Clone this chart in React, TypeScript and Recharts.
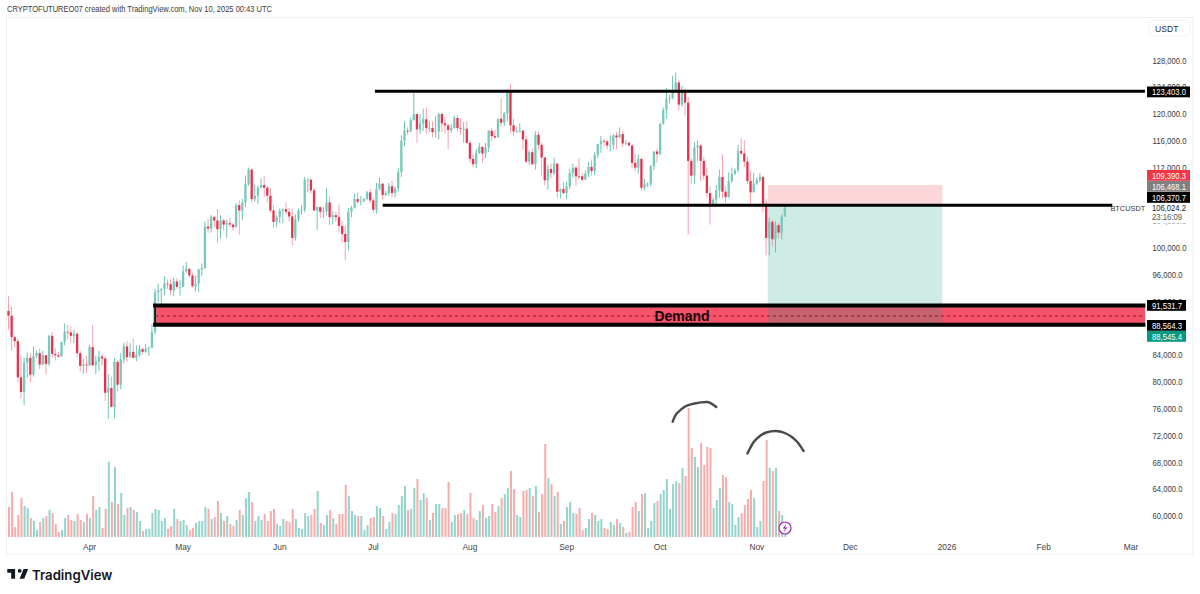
import React from 'react';
import { ComposedChart, Bar, Line, XAxis, YAxis, ReferenceLine, ReferenceArea, ReferenceDot } from 'recharts';

// Daily BTCUSDT candles in thousands of USDT, 2025-03-06 to 2025-11-10
const opens = [
  90.6,89.9,86.7,86.1,80.7,78.5,82.9,83.6,81.1,83.9,84.3,82.6,84.0,82.7,86.9,84.2,84.0,83.8,86.0,87.5,87.4,86.9,87.2,84.3,82.4,82.6,
  82.5,85.2,82.5,83.1,83.8,83.5,78.4,79.1,76.3,83.0,79.6,83.4,85.3,83.7,84.5,83.6,84.0,84.9,84.5,85.0,85.1,87.5,93.4,93.7,93.9,94.7,94.6,93.7,95.0,94.2,
  94.2,96.5,96.9,95.9,94.3,94.7,96.8,97.0,103.2,102.9,104.6,104.1,102.8,104.1,103.5,103.7,103.5,103.1,106.4,105.6,106.8,109.6,111.7,107.3,107.8,109.0,109.4,109.0,107.8,105.6,103.9,
  104.6,105.6,105.8,105.4,104.7,101.5,104.3,105.6,105.7,110.2,110.2,108.6,105.6,106.1,105.4,105.5,106.8,104.6,104.9,104.6,103.3,102.1,100.9,105.4,106.0,107.3,106.9,107.0,107.3,108.3,
  107.1,105.7,108.8,109.6,107.9,108.2,109.2,108.2,108.9,111.3,116.0,117.5,117.4,119.1,120.0,117.7,118.6,119.2,117.9,117.9,117.3,117.4,120.0,118.6,118.3,117.6,117.9,119.4,117.9,117.8,117.8,
  115.7,113.3,112.5,114.2,115.1,114.1,115.0,117.5,116.7,116.5,119.3,118.7,120.1,123.3,118.3,117.4,117.4,117.5,116.2,112.9,114.3,112.5,116.9,115.4,113.5,110.1,111.8,111.2,112.6,108.4,108.8,
  108.2,109.2,111.2,112.0,110.7,110.7,110.2,111.1,112.1,111.5,113.9,115.5,116.0,115.9,115.3,115.4,116.8,116.5,117.0,115.6,115.7,115.3,112.7,112.0,113.3,109.0,109.6,109.6,112.2,114.4,
  114.0,118.6,120.6,122.3,122.4,123.5,124.7,121.4,123.3,121.7,113.0,110.8,115.0,115.3,113.0,110.8,108.2,106.4,107.2,108.6,110.6,108.4,107.6,110.0,111.0,111.6,114.5,114.1,112.9,110.0,108.3,
  109.6,110.1,110.6,106.6,101.5,103.9,101.3,103.4,102.3,104.7,
];
const highs = [
  92.8,91.3,86.9,86.5,84.0,83.6,84.4,84.3,85.3,84.7,85.0,84.7,84.0,87.0,87.4,85.0,84.5,86.0,88.7,88.5,88.3,87.8,87.5,84.6,83.5,83.9,
  85.5,88.5,83.9,84.7,84.2,83.8,81.2,80.8,83.6,83.2,84.3,85.9,86.1,85.8,86.5,85.5,85.5,85.1,85.7,85.3,88.6,93.9,94.7,94.0,95.8,95.3,95.3,95.6,95.5,95.2,
  97.4,97.9,96.9,96.3,95.9,96.9,97.7,104.0,104.4,104.9,104.8,105.8,104.9,104.4,104.2,104.5,103.7,106.7,107.1,107.3,110.8,112.0,111.9,109.5,109.3,110.4,110.7,109.3,108.9,106.3,104.9,
  105.9,105.9,106.8,106.0,105.9,105.0,105.9,106.4,110.6,110.4,110.4,108.9,106.2,106.2,106.1,108.9,107.7,105.5,105.4,106.5,104.0,103.4,106.0,106.3,108.1,108.3,107.8,107.5,108.5,108.8,
  107.5,109.7,110.5,109.7,108.5,109.7,110.0,109.2,111.9,116.8,118.9,118.0,119.5,123.2,120.0,120.0,120.8,120.9,118.9,118.9,119.7,120.2,120.2,119.5,118.5,118.5,119.8,119.8,119.3,118.8,118.9,
  116.1,114.0,114.8,115.7,115.1,115.7,117.6,117.9,117.6,119.3,122.3,120.3,123.7,124.5,119.3,118.0,118.6,117.6,116.8,114.6,114.8,117.4,117.4,115.7,113.6,112.4,112.6,113.5,112.6,108.9,109.9,
  109.9,111.8,112.6,112.2,113.4,111.2,111.6,112.9,113.2,114.3,115.5,116.7,116.3,116.1,116.8,117.0,117.3,118.0,117.5,116.1,115.9,115.4,114.0,114.0,113.5,110.3,109.8,112.4,114.4,114.8,
  118.6,121.0,123.9,122.9,125.7,126.2,125.1,124.2,123.8,122.5,113.4,115.8,116.0,115.5,113.6,112.0,109.2,107.5,109.4,111.7,114.0,109.2,111.3,112.0,111.9,115.4,116.4,116.1,113.6,111.6,111.2,
  110.5,111.2,110.8,107.3,104.5,104.2,104.0,103.7,105.0,106.4,
];
const lows = [
  87.8,84.7,85.2,80.0,77.5,76.6,80.6,79.9,80.8,83.6,81.9,82.5,81.1,82.4,83.7,83.2,83.6,83.8,85.5,86.3,85.9,85.8,83.7,81.6,81.2,81.3,
  82.4,82.3,81.2,81.7,82.4,77.2,74.5,76.2,74.6,78.6,78.9,82.8,83.0,83.7,83.6,83.1,83.8,84.1,84.3,83.9,85.1,87.1,91.9,91.7,92.9,93.9,93.0,92.8,93.9,92.9,
  94.1,96.3,95.6,94.1,93.5,93.4,95.8,96.9,102.3,102.3,103.1,100.8,101.4,102.6,101.5,103.1,102.6,103.1,102.0,104.2,106.1,109.3,106.8,106.9,106.6,108.9,107.6,106.8,105.3,103.0,103.1,
  103.7,103.7,105.0,104.0,100.4,101.1,103.9,105.0,105.3,108.3,108.1,105.6,102.7,104.5,104.5,104.9,103.4,103.5,103.9,102.3,100.8,98.2,99.6,104.6,105.9,106.6,106.4,106.8,107.2,106.7,
  105.2,105.1,108.6,107.2,107.8,107.8,107.5,107.5,108.4,110.6,115.2,116.9,117.3,119.0,115.7,117.0,117.5,117.0,117.3,116.5,116.5,116.2,117.3,117.1,114.7,117.2,117.8,117.4,116.9,115.7,115.5,
  112.7,112.0,111.9,114.0,112.7,113.4,114.3,115.9,116.3,116.5,118.1,118.2,118.9,117.2,116.8,117.2,117.2,114.7,112.7,112.4,112.4,111.7,114.7,110.7,109.4,108.7,110.4,110.9,107.5,107.4,108.0,
  107.3,108.8,110.5,109.3,110.2,109.9,110.2,110.6,110.8,110.9,113.4,114.2,115.2,114.7,114.4,114.7,114.8,116.4,115.1,115.4,115.2,111.9,111.5,111.1,108.6,108.6,109.1,109.2,111.6,112.7,
  113.9,118.4,119.3,121.6,122.2,123.1,120.6,121.1,119.8,102.0,109.6,109.6,113.0,110.0,110.2,107.5,103.5,106.4,106.1,107.5,107.4,106.7,107.5,109.7,111.0,111.3,113.8,112.1,109.5,106.3,108.3,
  109.4,109.8,105.3,98.9,98.9,100.3,99.3,101.5,101.3,104.7,
];
const closes = [
  89.9,86.7,86.1,80.7,78.5,82.9,83.6,81.1,83.9,84.3,82.6,84.0,82.7,86.9,84.2,84.0,83.8,86.0,87.5,87.4,86.9,87.2,84.3,82.4,82.6,82.5,
  85.2,82.5,83.1,83.8,83.5,78.4,79.1,76.3,83.0,79.6,83.4,85.3,83.7,84.5,83.6,84.0,84.9,84.5,85.0,85.1,87.5,93.4,93.7,93.9,94.7,94.6,93.7,95.0,94.2,94.2,
  96.5,96.9,95.9,94.3,94.7,96.8,97.0,103.2,102.9,104.6,104.1,102.8,104.1,103.5,103.7,103.5,103.1,106.4,105.6,106.8,109.6,111.7,107.3,107.8,109.0,109.4,109.0,107.8,105.6,103.9,104.6,
  105.6,105.8,105.4,104.7,101.5,104.3,105.6,105.7,110.2,110.2,108.6,105.6,106.1,105.4,105.5,106.8,104.6,104.9,104.6,103.3,102.1,100.9,105.4,106.0,107.3,106.9,107.0,107.3,108.3,107.1,
  105.7,108.8,109.6,107.9,108.2,109.2,108.2,108.9,111.3,116.0,117.5,117.4,119.1,120.0,117.7,118.6,119.2,117.9,117.9,117.3,117.4,120.0,118.6,118.3,117.6,117.9,119.4,117.9,117.8,117.8,115.7,
  113.3,112.5,114.2,115.1,114.1,115.0,117.5,116.7,116.5,119.3,118.7,120.1,123.3,118.3,117.4,117.4,117.5,116.2,112.9,114.3,112.5,116.9,115.4,113.5,110.1,111.8,111.2,112.6,108.4,108.8,108.2,
  109.2,111.2,112.0,110.7,110.6,110.2,111.1,112.1,111.5,113.9,115.5,116.0,115.9,115.3,115.4,116.8,116.5,117.0,115.6,115.7,115.3,112.7,112.0,113.3,109.0,109.6,109.6,112.2,114.4,114.0,
  118.6,120.6,122.3,122.4,123.5,124.7,121.4,123.3,121.7,113.0,110.8,115.0,115.3,113.0,110.8,108.2,106.4,107.2,108.6,110.6,108.4,107.6,110.0,111.0,111.6,114.5,114.1,112.9,110.0,108.3,109.6,
  110.1,110.6,106.6,101.5,103.9,101.3,103.4,102.3,104.7,106.0,
];
const volumes = [
  30,45,10,22,39,31,29,19,16,7,15,19,21,27,24,13,5,7,19,22,17,16,23,17,15,23,
  19,41,27,30,9,28,75,35,70,33,44,22,29,30,27,25,16,6,8,8,24,28,27,16,19,8,11,28,18,16,
  17,12,7,9,14,16,16,30,28,18,20,36,24,16,21,13,11,17,27,22,39,45,35,16,21,17,23,16,26,28,13,
  11,18,16,15,28,18,9,8,24,21,22,28,46,14,12,22,27,19,13,23,23,52,41,26,22,21,21,7,12,19,
  20,31,29,21,8,15,24,23,32,41,51,27,28,49,58,37,44,39,17,24,33,33,29,29,55,15,22,23,24,27,23,
  44,19,17,26,32,19,21,33,25,31,39,43,49,66,48,22,20,46,47,49,41,51,25,43,93,59,53,41,45,13,16,
  30,35,24,23,29,7,9,18,24,22,16,18,9,8,15,12,18,14,10,4,5,30,35,26,43,44,9,16,34,36,
  43,47,58,28,53,56,54,69,61,129,89,80,70,94,72,90,89,29,37,49,62,60,35,33,12,20,24,32,38,47,39,
  10,16,56,97,69,66,69,26,22,3,
];

// Hand-drawn arcs over the volume spikes, as [days after 2025-03-06, price]
const arcOne = [[213,74074],[214,75075],[215,75600],[217,76340],[220,76790],[224,77014],[227,76270]];
const arcTwo = [[237,69330],[239,71044],[241,71940],[243,72462],[246,72686],[249,72388],[251,71866],[253,71044],[255,69700]];

const priceTicks = [60000,64000,68000,72000,76000,80000,84000,92000,96000,100000,104000,112000,116000,120000,124000,128000];
const monthDates = ['2025-04-01','2025-05-01','2025-06-01','2025-07-01','2025-08-01','2025-09-01','2025-10-01','2025-11-01','2025-12-01','2026-01-01','2026-02-01','2026-03-01'];
const monthLabels = ['Apr','May','Jun','Jul','Aug','Sep','Oct','Nov','Dec','2026','Feb','Mar'];

const resistance = 123403;
const support = 106370.7;
const demandTop = 91417;
const demandBottom = 88551;
const demandMid = 89850;
const stopPrice = 109390.3;
const targetPrice = 88545.4;

const sessionDays = 365;
const dates: string[] = [];
for (let i = 0; i < sessionDays; i++) {
  dates.push(new Date(Date.UTC(2025, 2, 6 + i)).toISOString().slice(0, 10));
}
const table = dates.map((date, i) => {
  const a1 = arcOne.find((p) => p[0] === i);
  const a2 = arcTwo.find((p) => p[0] === i);
  const row: any = { date, arc1: a1 ? a1[1] : null, arc2: a2 ? a2[1] : null };
  if (i < closes.length) {
    row.open = opens[i] * 1000;
    row.high = highs[i] * 1000;
    row.low = lows[i] * 1000;
    row.close = closes[i] * 1000;
    row.volume = volumes[i];
  }
  return row;
});

const FONT = '"Liberation Sans", Arial, sans-serif';
const TEAL_BODY = '#78c9ba';
const TEAL_WICK = '#62bdac';
const RED_BODY = '#e6324f';
const RED_WICK = '#f09aa8';

function Candle(props: any) {
  const { x, y, width, height, payload } = props;
  if (!payload || payload.high == null || !(height > 0)) return null;
  const perUnit = height / (payload.high - payload.low);
  const at = (v: number) => y + (payload.high - v) * perUnit;
  const up = payload.close >= payload.open;
  const cx = x + width / 2;
  const top = at(Math.max(payload.open, payload.close));
  const bottom = at(Math.min(payload.open, payload.close));
  return (
    <g>
      <rect x={cx - 0.45} y={y} width={0.9} height={height} fill={up ? TEAL_WICK : RED_WICK} />
      <rect x={cx - 1.15} y={top} width={2.3} height={Math.max(bottom - top, 0.8)} fill={up ? TEAL_BODY : RED_BODY} />
    </g>
  );
}

function VolumeBar(props: any) {
  const { x, y, width, height, payload } = props;
  if (!payload || payload.volume == null || !(height > 0)) return null;
  const up = payload.close >= payload.open;
  return <rect x={x} y={y} width={width} height={height} fill={up ? '#93d4cc' : '#f5acaa'} />;
}

function PriceTick(props: any) {
  const { y, payload } = props;
  const label = payload.value.toLocaleString('en-US', { minimumFractionDigits: 1 });
  return (
    <text x={1152.5} y={y + 3.2} fontSize={9} fontFamily={FONT} fill="#3a3a3a" textLength={label.length > 8 ? 34 : 30} lengthAdjust="spacingAndGlyphs">
      {label}
    </text>
  );
}

function Tag({ y, w = 43, fill, color = '#fff', text, len = 34 }: any) {
  return (
    <g>
      <rect x={1147} y={y} width={w} height={10.8} fill={fill} />
      <text x={1152} y={y + 8.5} fontSize={9} fontFamily={FONT} fill={color} textLength={len} lengthAdjust="spacingAndGlyphs">{text}</text>
    </g>
  );
}

function Overlay() {
  return (
    <svg width={1200} height={594} style={{ position: 'absolute', left: 0, top: 0, pointerEvents: 'none' }}>
      <text x={7} y={12} fontSize={8.6} fontFamily={FONT} fill="#3a3a3a" textLength={265} lengthAdjust="spacingAndGlyphs">CRYPTOFUTUREO07 created with TradingView.com, Nov 10, 2025 00:43 UTC</text>
      <rect x={6.5} y={17.5} width={1186.5} height={536.5} fill="none" stroke="#efefef" />
      <rect x={1149} y={20} width={41} height={16} rx={3} fill="#fff" stroke="#f3f3f3" />
      <text x={1155} y={32} fontSize={8.6} fontFamily={FONT} fill="#333">USDT</text>

      <Tag y={86.5} fill="#000" text="123,403.0" />
      <Tag y={170} fill="#f23645" text="109,390.3" />
      <Tag y={181} fill="#808080" text="106,468.1" />
      <Tag y={192} fill="#000" text="106,370.7" />
      <rect x={1147} y={203} width={43} height={20.5} fill="#fff" />
      <text x={1152} y={211} fontSize={9} fontFamily={FONT} fill="#222" textLength={34} lengthAdjust="spacingAndGlyphs">106,024.2</text>
      <text x={1152} y={220} fontSize={8.6} fontFamily={FONT} fill="#555" textLength={30} lengthAdjust="spacingAndGlyphs">23:16:09</text>
      <Tag y={300} w={39} fill="#000" text="91,531.7" len={30} />
      <Tag y={320} w={39} fill="#000" text="88,564.3" len={30} />
      <Tag y={331} w={39} fill="#089981" text="88,545.4" len={30} />

      <circle cx={785} cy={528} r={6} fill="#fff" stroke="#9c27b0" strokeWidth={1.2} />
      <path d="M786.2 523.8 L782.8 528.6 L785 528.6 L783.8 532.2 L787.2 527.4 L785 527.4 Z" fill="#9c27b0" />

      <g transform="translate(6,565) scale(0.65)">
        <path d="M14 6H2v6h6v9h6V6zm14 15h-7l6-15h7l-6 15zm-7-9a3 3 0 1 0 0-6 3 3 0 0 0 0 6z" fill="#131722" />
      </g>
      <text x={32} y={580} fontSize={13.2} fontWeight={600} fontFamily='Inter, "Open Sans", sans-serif' fill="#131722">TradingView</text>
    </svg>
  );
}

export default function App() {
  const first = dates[47];
  const last = dates[sessionDays - 1];
  return (
    <div style={{ position: 'absolute', left: 0, top: 0, width: 1200, height: 594, background: '#fff' }}>
      <ComposedChart width={1200} height={594} data={table} margin={{ top: 18, right: 0, bottom: 37, left: 7 }}>
        <XAxis
          xAxisId="main"
          dataKey="date"
          ticks={monthDates}
          interval={0}
          height={20}
          axisLine={false}
          tickLine={false}
          tickMargin={1}
          tickFormatter={(d: string) => monthLabels[monthDates.indexOf(d)]}
          tick={{ fontSize: 8.4, fontFamily: FONT, fill: '#444' }}
        />
        <XAxis xAxisId="vol" dataKey="date" hide />
        <YAxis
          yAxisId="price"
          orientation="right"
          width={55}
          domain={[56866, 134327]}
          allowDataOverflow
          ticks={priceTicks}
          interval={0}
          axisLine={false}
          tickLine={false}
          tick={<PriceTick />}
        />
        <YAxis yAxisId="volume" hide domain={[0, 519]} allowDataOverflow />

        <ReferenceArea xAxisId="main" yAxisId="price" x1={first} x2={last} y1={demandBottom} y2={demandTop} fill="#f5536a" fillOpacity={1} stroke="none" />
        <ReferenceArea xAxisId="main" yAxisId="price" x1="2025-11-05" x2="2025-12-30" y1={support} y2={stopPrice} fill="#f23645" fillOpacity={0.2} stroke="none" />

        <Bar xAxisId="vol" yAxisId="volume" dataKey="volume" barSize={2} shape={<VolumeBar />} isAnimationActive={false} />
        <Bar xAxisId="main" yAxisId="price" dataKey={(d: any) => (d.high == null ? null : [d.low, d.high])} barSize={3} shape={<Candle />} isAnimationActive={false} />

        <Line xAxisId="main" yAxisId="price" dataKey="arc1" connectNulls type="monotone" dot={false} stroke="#4a4a4a" strokeWidth={2.4} strokeLinecap="round" isAnimationActive={false} />
        <Line xAxisId="main" yAxisId="price" dataKey="arc2" connectNulls type="monotone" dot={false} stroke="#4a4a4a" strokeWidth={2.4} strokeLinecap="round" isAnimationActive={false} />

        <ReferenceLine xAxisId="main" yAxisId="price" segment={[{ x: dates[118], y: resistance }, { x: last, y: resistance }]} stroke="#000" strokeWidth={3} strokeLinecap="square" />
        <ReferenceLine xAxisId="main" yAxisId="price" segment={[{ x: dates[120], y: support }, { x: dates[354], y: support }]} stroke="#000" strokeWidth={3} />
        <ReferenceLine xAxisId="main" yAxisId="price" segment={[{ x: first, y: demandTop }, { x: last, y: demandTop }]} stroke="#000" strokeWidth={4} strokeLinecap="square" />
        <ReferenceLine xAxisId="main" yAxisId="price" segment={[{ x: first, y: demandBottom }, { x: last, y: demandBottom }]} stroke="#000" strokeWidth={4} strokeLinecap="square" />
        <ReferenceLine xAxisId="main" yAxisId="price" segment={[{ x: first, y: demandBottom }, { x: first, y: demandTop }]} stroke="#000" strokeWidth={1.6} />
        <ReferenceLine xAxisId="main" yAxisId="price" segment={[{ x: first, y: demandMid }, { x: last, y: demandMid }]} stroke="#8e1a33" strokeWidth={1} strokeDasharray="3 3" />
        <ReferenceArea xAxisId="main" yAxisId="price" x1="2025-11-05" x2="2025-12-30" y1={targetPrice} y2={support} fill="#089981" fillOpacity={0.2} stroke="none" />
        <ReferenceDot
          xAxisId="main"
          yAxisId="price"
          x={dates[216]}
          y={demandMid}
          r={0}
          fill="none"
          stroke="none"
          label={{ value: 'Demand', position: 'center', fontSize: 14, fontWeight: 700, fontFamily: FONT, fill: '#1a0508' }}
        />
        <ReferenceDot
          xAxisId="main"
          yAxisId="price"
          x={dates[359]}
          y={support - 450}
          r={0}
          fill="none"
          stroke="none"
          label={{ value: 'BTCUSDT', position: 'center', fontSize: 7.4, fontFamily: FONT, fill: '#333' }}
        />
      </ComposedChart>
      <Overlay />
    </div>
  );
}
